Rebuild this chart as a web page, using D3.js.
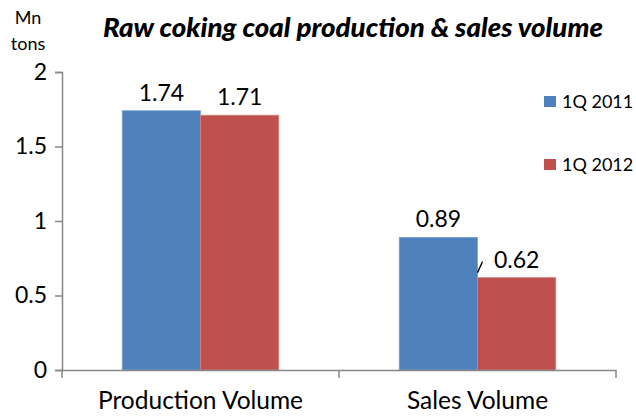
<!DOCTYPE html>
<html>
<head>
<meta charset="utf-8">
<script src="https://cdn.jsdelivr.net/npm/d3@7.9.0/dist/d3.min.js"></script>
<style>
  body { margin: 0; background: #fff; }
  text { font-family: Lato, "Noto Sans", sans-serif; fill: #000; }
</style>
</head>
<body>
<div id="chart"></div>
<script>
// data
const categories = ["Production Volume", "Sales Volume"];
const seriesNames = ["1Q 2011", "1Q 2012"];
const values2011 = [1.74, 0.89];
const values2012 = [1.71, 0.62];
const yTicks = [0, 0.5, 1, 1.5, 2];

const colors = ["#4F81BD", "#C0504D"];

// config
const width = 636,
  height = 418;
const margin = { left: 62, right: 20, top: 72, bottom: 48 };

const svg = d3
  .select("#chart")
  .append("svg")
  .attr("width", width)
  .attr("height", height);

const x = d3
  .scaleBand()
  .domain(categories)
  .range([margin.left, 616])
  .paddingInner(0)
  .paddingOuter(0);

const xInner = d3
  .scaleBand()
  .domain(seriesNames)
  .range([0, x.bandwidth()])
  .paddingOuter(0.77)
  .paddingInner(0);

const y = d3.scaleLinear().domain([0, 2]).range([370, 72]);

// y axis
const yAxis = svg
  .append("g")
  .attr("transform", `translate(${margin.left},0)`)
  .call(
    d3.axisLeft(y).tickValues(yTicks).tickSize(7).tickPadding(8).tickFormat(d3.format("~g"))
  );
yAxis.select(".domain").attr("stroke", "#868686").attr("stroke-width", 1.5);
yAxis.selectAll(".tick line").attr("stroke", "#868686").attr("stroke-width", 1.5);
yAxis.selectAll(".tick text").style("font-size", "23px").attr("fill", "#000");

// bars
const rows = categories.map((c, i) => ({ cat: c, vals: [values2011[i], values2012[i]] }));

const groups = svg
  .selectAll("g.cat")
  .data(rows)
  .join("g")
  .attr("class", "cat")
  .attr("transform", (d) => `translate(${x(d.cat)},0)`);

groups
  .selectAll("rect")
  .data((d) => d.vals.map((v, j) => ({ name: seriesNames[j], v, j })))
  .join("rect")
  .attr("x", (d) => xInner(d.name))
  .attr("y", (d) => y(d.v))
  .attr("width", xInner.bandwidth())
  .attr("height", (d) => y(0) - y(d.v))
  .attr("fill", (d) => colors[d.j])
  .attr("stroke", (d) => (d.j === 0 ? "#7a9fd0" : "#d08280"))
  .attr("stroke-width", 0.8);

// data labels
groups
  .selectAll("text.lbl")
  .data((d) => d.vals.map((v, j) => ({ name: seriesNames[j], v, j })))
  .join("text")
  .attr("class", "lbl")
  .attr("x", (d) => xInner(d.name) + xInner.bandwidth() / 2)
  .attr("y", (d) => y(d.v) - 10)
  .attr("text-anchor", "middle")
  .style("font-size", "23px")
  .text((d) => d3.format(".2f")(d.v));

// leader line for the moved 0.62 label
const salesRed = x("Sales Volume") + xInner("1Q 2012");
svg
  .append("line")
  .attr("x1", salesRed)
  .attr("y1", y(values2012[1]) - 5)
  .attr("x2", salesRed + 5)
  .attr("y2", y(values2012[1]) - 16)
  .attr("stroke", "#000")
  .attr("stroke-width", 1.3);

// x axis
const xAxis = svg
  .append("g")
  .attr("transform", `translate(0,${y(0)})`)
  .call(d3.axisBottom(x).tickSize(0).tickPadding(22));
xAxis.select(".domain").attr("stroke", "#868686").attr("stroke-width", 1.5);
xAxis.selectAll(".tick text").style("font-size", "24.5px").attr("fill", "#000");

// category boundary ticks
const bounds = [x.range()[0], x(categories[1]), x.range()[1]];
svg
  .selectAll("line.bt")
  .data(bounds)
  .join("line")
  .attr("class", "bt")
  .attr("x1", (d) => d)
  .attr("x2", (d) => d)
  .attr("y1", y(0))
  .attr("y2", y(0) + 8)
  .attr("stroke", "#868686")
  .attr("stroke-width", 1.5);

// title
svg
  .append("text")
  .attr("x", 353)
  .attr("y", 37)
  .attr("text-anchor", "middle")
  .style("font-size", "26px")
  .style("font-weight", "900")
  .style("font-style", "italic")
  .attr("textLength", 500)
  .attr("lengthAdjust", "spacingAndGlyphs")
  .text("Raw coking coal production & sales volume");

// unit label
svg.append("text").attr("x", 28).attr("y", 24).attr("text-anchor", "middle").style("font-size", "18px").text("Mn");
svg.append("text").attr("x", 28).attr("y", 50).attr("text-anchor", "middle").style("font-size", "18px").text("tons");

// legend
const legend = svg
  .selectAll("g.leg")
  .data(seriesNames)
  .join("g")
  .attr("class", "leg")
  .attr("transform", (d, i) => `translate(544,${96 + i * 63})`);
legend
  .append("rect")
  .attr("width", 12)
  .attr("height", 11)
  .attr("fill", (d, i) => colors[i]);
legend
  .append("text")
  .attr("x", 18)
  .attr("y", 12)
  .style("font-size", "18px")
  .text((d) => d);
</script>
</body>
</html>
